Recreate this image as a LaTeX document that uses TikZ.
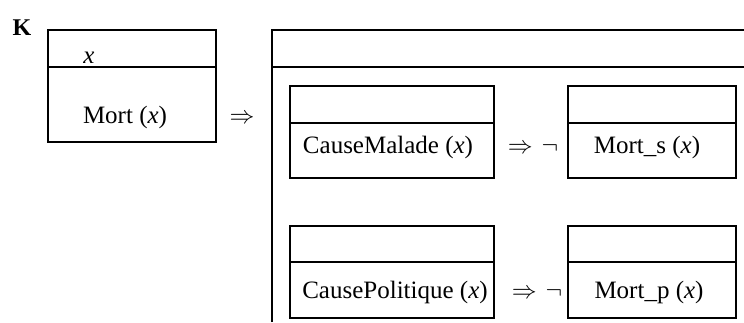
\documentclass[tikz,border=0pt]{standalone}
\usepackage{fontspec}
\setmainfont{Liberation Serif}
\usepackage{xcolor}

\tikzset{
    drsbox/.style={rectangle, draw, line width=1.4pt, inner sep=0pt, outer sep=0pt, minimum height=92pt},
    drstext/.style={anchor=base, inner sep=0pt, font=\fontsize{25}{30}\selectfont},
}

\begin{document}
\begin{tikzpicture}[x=1pt, y=-1pt]
    \useasboundingbox (0,0) rectangle (744,322);
    % Define the boxes with specific positions
    \begin{scope}[xshift=0cm, yshift=0cm]
        \node[drstext, font=\fontsize{24}{28}\selectfont\bfseries] (K) at (22,35) {K};

        \node[drsbox, minimum width=168pt, minimum height=112pt] (univ) at (132,86) {};
        \node[drstext] (x) at (89,63) {\textit{x}};
        \node[drstext] (mort) at (125,123) {Mort (\textit{x})};
        \node[drstext] (imp) at (242,123) {$\Rightarrow$};

        % Draw the outer box (open to the right and below)
        \draw[line width=1.4pt] (272,322) -- (272,30) -- (744,30);
        \draw[line width=1.4pt] (272,67) -- (744,67);

        \node[drsbox, minimum width=204pt] (malade) at (392,132) {};
        \node[drsbox, minimum width=168pt] (mortS) at (652,132) {};
        \node[drsbox, minimum width=204pt] (politique) at (392,272) {};
        \node[drsbox, minimum width=168pt] (mortP) at (652,272) {};

        \node[drstext] (m1) at (388,153) {CauseMalade (\textit{x})};
        \node[drstext] (n1) at (533,153) {$\Rightarrow$\hspace{9pt}$\neg$};
        \node[drstext] (s1) at (647,153) {Mort\_s (\textit{x})};

        \node[drstext] (m2) at (395,298) {CausePolitique (\textit{x})};
        \node[drstext] (n2) at (537,298) {$\Rightarrow$\hspace{9pt}$\neg$};
        \node[drstext] (s2) at (649,298) {Mort\_p (\textit{x})};

        % Draw the dividing lines of the boxes
        \draw[line width=1.4pt] ([yshift=-37pt]univ.north west) -- ([yshift=-37pt]univ.north east);
        \draw[line width=1.4pt] ([yshift=-37pt]malade.north west) -- ([yshift=-37pt]malade.north east);
        \draw[line width=1.4pt] ([yshift=-37pt]mortS.north west) -- ([yshift=-37pt]mortS.north east);
        \draw[line width=1.4pt] ([yshift=-36pt]politique.north west) -- ([yshift=-36pt]politique.north east);
        \draw[line width=1.4pt] ([yshift=-36pt]mortP.north west) -- ([yshift=-36pt]mortP.north east);
    \end{scope}
\end{tikzpicture}
\end{document}
